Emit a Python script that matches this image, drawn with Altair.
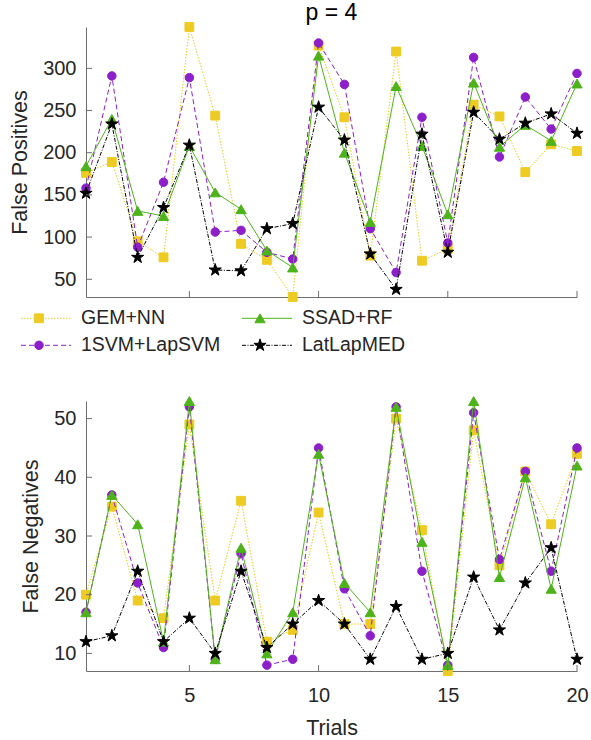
import altair as alt
import pandas as pd

# ---------------- data ----------------
trials = list(range(1, 21))
series_names = ["GEM+NN", "1SVM+LapSVM", "SSAD+RF", "LatLapMED"]

fp_gem = [176, 189, 95, 76, 349, 244, 92, 73, 29, 327, 242, 78, 320, 72, 86, 257, 243, 177, 210, 202]
fp_svm = [158, 291, 88, 165, 289, 106, 108, 82, 74, 330, 281, 110, 58, 242, 93, 313, 195, 266, 228, 294]
fp_ssad = [184, 240, 131, 125, 208, 153, 133, 84, 64, 315, 200, 118, 279, 208, 127, 283, 207, 233, 214, 282]
fp_lat = [152, 234, 76, 135, 209, 61, 60, 110, 116, 254, 215, 80, 38, 222, 82, 248, 216, 235, 246, 223]

fn_gem = [20, 35, 19, 16, 49, 19, 36, 12, 14, 34, 15, 15, 50, 31, 7, 48, 25, 41, 32, 44]
fn_svm = [17, 37, 22, 11, 52, 9, 27, 8, 9, 45, 21, 13, 52, 24, 8, 51, 26, 41, 24, 45]
fn_ssad = [17, 37, 32, 12, 53, 9, 28, 10, 17, 44, 22, 17, 52, 29, 8, 53, 23, 40, 21, 42]
fn_lat = [12, 13, 24, 12, 16, 10, 24, 11, 15, 19, 15, 9, 18, 9, 10, 23, 14, 22, 28, 9]

fp_ticks = [50, 100, 150, 200, 250, 300]
fn_ticks = [10, 20, 30, 40, 50]
x_ticks = [5, 10, 15, 20]

# ---------------- style ----------------
FONT = "Liberation Sans"
TXT = "#262626"
AX = "#6E6E6E"
W, H = 491, 270
LEG_H = 90

STAR = ("M0,-1L0.2245,-0.309L0.951,-0.309L0.3633,0.118L0.5878,0.809L0,0.382"
        "L-0.5878,0.809L-0.3633,0.118L-0.951,-0.309L-0.2245,-0.309Z")
styles = {
    "GEM+NN": dict(color="#EDCB22", shape="square", size=78, dash=[1.5, 1.5], lw=1.0),
    "1SVM+LapSVM": dict(color="#8C1FC9", shape="circle", size=72, dash=[5, 3], lw=1.0),
    "SSAD+RF": dict(color="#4EB31B", shape="triangle-up", size=105, dash=None, lw=1.0),
    "LatLapMED": dict(color="#000000", shape=STAR, size=165, dash=[4, 1.5, 1, 1.5], lw=1.0),
}


def long_df(gem, svm, ssad, lat):
    rows = []
    for name, vals in zip(series_names, [gem, svm, ssad, lat]):
        for t, v in zip(trials, vals):
            rows.append({"trial": t, "series": name, "value": v})
    return pd.DataFrame(rows)


def panel(df, ylabel, yticks, bottom, title=None):
    xscale = alt.Scale(domain=[min(trials), max(trials)], nice=False, zero=False)
    yscale = alt.Scale(domain=[float(df["value"].min()), float(df["value"].max())],
                       nice=False, zero=False)
    if bottom:
        xaxis = alt.Axis(values=x_ticks, title="Trials")
    else:
        xaxis = alt.Axis(values=x_ticks, labels=False, title="")
    yaxis = alt.Axis(values=yticks, title=ylabel)
    X = alt.X("trial:Q", scale=xscale, axis=xaxis)
    Y = alt.Y("value:Q", scale=yscale, axis=yaxis)
    layers = []
    for name in series_names:
        st = styles[name]
        base = alt.Chart(df).transform_filter(alt.datum.series == name)
        line_kw = dict(color=st["color"], strokeWidth=st["lw"])
        if st["dash"]:
            line_kw["strokeDash"] = st["dash"]
        line = base.mark_line(**line_kw).encode(x=X, y=Y)
        pts = base.mark_point(shape=st["shape"], size=st["size"], filled=True,
                              color=st["color"], stroke=st["color"],
                              strokeWidth=1, opacity=1).encode(x=X, y=Y)
        layers += [line, pts]
    # inward tick marks (drawn through the same scales / axes)
    ytick_layer = alt.Chart(pd.DataFrame({"value": yticks})).mark_rule(
        color=AX, strokeWidth=1).encode(y=Y, x=alt.value(0), x2=alt.value(6))
    xtick_layer = alt.Chart(pd.DataFrame({"trial": x_ticks})).mark_rule(
        color=AX, strokeWidth=1).encode(x=X, y=alt.value(H), y2=alt.value(H - 6))
    layers += [ytick_layer, xtick_layer]
    props = dict(width=W, height=H)
    if title:
        props["title"] = alt.TitleParams(title, font=FONT, fontSize=23,
                                         fontWeight="normal", color="#000000",
                                         anchor="middle", offset=-4.5)
    return alt.layer(*layers).properties(**props)


top = panel(long_df(fp_gem, fp_svm, fp_ssad, fp_lat), "False Positives", fp_ticks,
            bottom=False, title="p = 4")
bot = panel(long_df(fn_gem, fn_svm, fn_ssad, fn_lat), "False Negatives", fn_ticks,
            bottom=True)

# ---------------- legend (2 columns, filled column-wise) ----------------
leg_df = pd.DataFrame({
    "series": series_names,
    "col": [i // 2 for i in range(len(series_names))],
    "row": [i % 2 for i in range(len(series_names))],
})
lx = alt.Scale(domain=[0, 1], range=[-65, 156])
ly = alt.Scale(domain=[0, 1], range=[14.3, 41.3])
leg_layers = []
for name in series_names:
    st = styles[name]
    base = alt.Chart(leg_df).transform_filter(alt.datum.series == name)
    rule_kw = dict(color=st["color"], strokeWidth=st["lw"], x2Offset=50)
    if st["dash"]:
        rule_kw["strokeDash"] = st["dash"]
    rule = base.mark_rule(**rule_kw).encode(
        x=alt.X("col:Q", scale=lx, axis=None), x2="col:Q",
        y=alt.Y("row:Q", scale=ly, axis=None))
    pt = base.mark_point(shape=st["shape"], size=st["size"], filled=True,
                         color=st["color"], stroke=st["color"], strokeWidth=1,
                         opacity=1, xOffset=18).encode(
        x=alt.X("col:Q", scale=lx, axis=None),
        y=alt.Y("row:Q", scale=ly, axis=None))
    txt = base.mark_text(align="left", baseline="middle", xOffset=60, font=FONT,
                         fontSize=19.5, color=TXT).encode(
        x=alt.X("col:Q", scale=lx, axis=None),
        y=alt.Y("row:Q", scale=ly, axis=None),
        text="series:N")
    leg_layers += [rule, pt, txt]
legend = alt.layer(*leg_layers).properties(width=W, height=LEG_H)

chart = alt.vconcat(top, legend, bot, spacing=0).properties(
    padding={"left": 9, "top": 2, "right": 0, "bottom": 0}
).configure_view(stroke=None).configure_axis(
    ticks=False, grid=False, domainColor=AX, domainWidth=1,
    labelFont=FONT, labelFontSize=20, labelColor=TXT, labelPadding=10,
    labelFlush=False, labelOverlap=False,
    titleFont=FONT, titleFontSize=21.5, titleFontWeight="normal",
    titleColor=TXT, titlePadding=11,
).configure_axisX(labelPadding=14, titlePadding=12)

chart.save("out.html", embed_options={"renderer": "svg", "actions": False})
